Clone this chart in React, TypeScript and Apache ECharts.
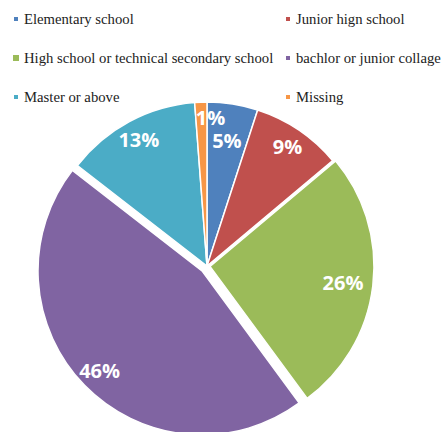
import React, { useEffect, useRef } from 'react';
import * as echarts from 'echarts';

const categories = [
  'Elementary school',
  'Junior hign school',
  'High school or technical secondary school',
  'bachlor or junior collage',
  'Master or above',
  'Missing',
];
const values = [5.0, 8.9, 26.0, 45.6, 13.3, 1.2];
const colors = ['#4F81BD', '#C0504D', '#9BBB59', '#8064A2', '#4BACC6', '#F79646'];
const legendColumn1 = [categories[0], categories[2], categories[4]];
const legendColumn2 = [categories[1], categories[3], categories[5]];
const explodedMain = categories[3];
const explodedSmall = categories[2];
// which labels sit nearer the rim
const outerLabels = [categories[1], categories[3], categories[4], categories[5]];

const CENTER = [207, 266];
const R = 164;
const BORDER = 1.5;

function visibleStyle(i: number) {
  return { color: colors[i], borderColor: '#fff', borderWidth: BORDER };
}
const hiddenStyle = { color: 'rgba(0,0,0,0)', borderWidth: 0 };

function fillSeries(visible: (name: string) => boolean, selectedName: string, offset: number) {
  return {
    type: 'pie',
    center: CENTER,
    radius: [0, R],
    startAngle: 90,
    clockwise: true,
    silent: true,
    selectedMode: 'multiple',
    selectedOffset: offset,
    label: { show: false },
    labelLine: { show: false },
    emphasis: { disabled: true },
    data: categories.map((name, i) => {
      const st = visible(name) ? visibleStyle(i) : hiddenStyle;
      return {
        name,
        value: values[i],
        selected: name === selectedName,
        itemStyle: st,
        select: { itemStyle: st },
      };
    }),
  };
}

function labelSeries(r0: number, show: (name: string) => boolean, selectedName: string, offset: number) {
  return {
    type: 'pie',
    center: CENTER,
    radius: [r0, R],
    startAngle: 90,
    clockwise: true,
    silent: true,
    percentPrecision: 0,
    selectedMode: 'multiple',
    selectedOffset: offset,
    emphasis: { disabled: true },
    labelLayout: { hideOverlap: false },
    labelLine: { show: false },
    label: {
      show: true,
      position: 'inside',
      formatter: '{d}%',
      color: '#fff',
      fontFamily: 'Open Sans',
      fontWeight: 'bold',
      fontSize: 20,
      lineHeight: 18,
    },
    data: categories.map((name, i) => ({
      name,
      value: values[i],
      selected: name === selectedName,
      itemStyle: hiddenStyle,
      select: { itemStyle: hiddenStyle },
      label: {
        show: show(name),
        ...(name === 'Missing' ? { offset: [9, -5] } : {}),
      },
    })),
  };
}

export default function App() {
  const ref = useRef<HTMLDivElement>(null);
  useEffect(() => {
    if (!ref.current) return;
    const chart = echarts.init(ref.current, undefined, { renderer: 'svg' });
    const legendText = { fontFamily: 'Liberation Serif', fontSize: 14.7, color: '#222', lineHeight: 16 };
    const mkLegend = (names: string[], left: number) => ({
      orient: 'vertical',
      left,
      top: 11,
      padding: 0,
      itemWidth: 6,
      itemHeight: 6,
      itemGap: 23,
      icon: 'rect',
      selectedMode: false,
      textStyle: legendText,
      data: names.map((n) => ({ name: n, itemStyle: { color: colors[categories.indexOf(n)] } })),
    });
    chart.setOption({
      animation: false,
      legend: [mkLegend(legendColumn1, 12), mkLegend(legendColumn2, 284)],
      series: [
        fillSeries((n) => n !== explodedSmall, explodedMain, 7),
        fillSeries((n) => n === explodedSmall, explodedSmall, 3),
        labelSeries(84, (n) => !outerLabels.includes(n), explodedSmall, 10),
        labelSeries(118, (n) => outerLabels.includes(n), explodedMain, 6),
      ],
    });
    return () => chart.dispose();
  }, []);
  return (
    <div
      ref={ref}
      style={{ position: 'absolute', left: 0, top: 0, width: 447, height: 432, background: '#fff' }}
    />
  );
}
